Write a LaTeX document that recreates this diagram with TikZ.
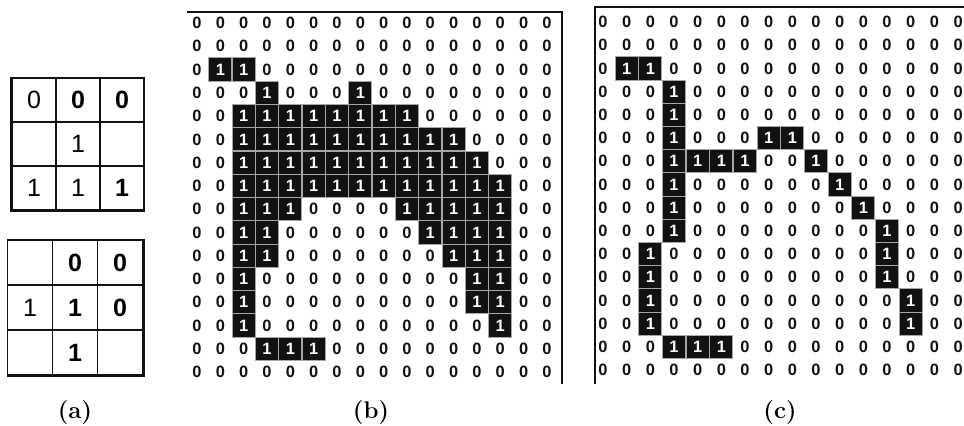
\documentclass[tikz,border=0pt]{standalone}
\usepackage{fontspec}
\newfontfamily\digitfont{Liberation Sans}
\usepackage{xcolor}
\definecolor{cInk}{HTML}{111111}
\definecolor{cGap}{HTML}{A6A6A6}
\usepackage{tikz}
\usetikzlibrary{positioning}
\newcommand{\bitfont}{\digitfont\fontsize{8.2}{9}\selectfont\bfseries}
\newcommand{\sefont}{\digitfont\fontsize{12.5}{13}\selectfont}
\tikzset{
  bit-0/.style={inner sep=0pt,font=\bitfont,text=cInk},
  bit-1/.style={bit-0,fill=cInk,draw=cGap,line width=0.5pt,
    minimum size=11.6pt,text=white},
  se-cell/.style={draw=cInk,line width=0.7pt,minimum size=22pt,
    inner sep=0pt,font=\sefont},
  se-cell-wide/.style={se-cell,minimum size=22.5pt},
  se-bold/.style={font=\sefont\bfseries},
  frame-line/.style={draw=cInk,line width=0.75pt},
  heavy-line/.style={draw=cInk,line width=1.5pt},
  sub-label/.style={font=\fontsize{12}{14}\selectfont\bfseries},
}

\begin{document}
\begin{tikzpicture}[x=0.5pt,y=-0.5pt]
  \useasboundingbox (0,0) rectangle (964,425);
  % (a) structuring elements
  \node[se-cell] (p-1-1) at (34,100) {0};
  \node[se-cell,se-bold] (p-1-2) at (78,100) {0};
  \node[se-cell,se-bold] (p-1-3) at (122,100) {0};
  \node[se-cell] (p-2-1) at (34,144) {};
  \node[se-cell] (p-2-2) at (78,144) {1};
  \node[se-cell] (p-2-3) at (122,144) {};
  \node[se-cell] (p-3-1) at (34,188) {1};
  \node[se-cell] (p-3-2) at (78,188) {1};
  \node[se-cell,se-bold] (p-3-3) at (122,188) {1};
  \draw[heavy-line] (p-1-1.north west) |- (p-3-3.south east);
  \node[se-cell-wide] (q-1-1) at (30,262.5) {};
  \node[se-cell-wide,se-bold] (q-1-2) at (75,262.5) {0};
  \node[se-cell-wide,se-bold] (q-1-3) at (120,262.5) {0};
  \node[se-cell-wide] (q-2-1) at (30,307.5) {1};
  \node[se-cell-wide,se-bold] (q-2-2) at (75,307.5) {1};
  \node[se-cell-wide,se-bold] (q-2-3) at (120,307.5) {0};
  \node[se-cell-wide] (q-3-1) at (30,352.5) {};
  \node[se-cell-wide,se-bold] (q-3-2) at (75,352.5) {1};
  \node[se-cell-wide] (q-3-3) at (120,352.5) {};
  \draw[heavy-line] (q-3-1.south west) -| (q-1-3.north east);
  % (b) input image
  \coordinate (b-nw) at (187,12);
  \coordinate (b-se) at (562,384);
  \draw[frame-line] (b-nw) -| (b-se);
  \foreach \row [count=\r] in {
    {0,0,0,0,0,0,0,0,0,0,0,0,0,0,0,0},
    {0,0,0,0,0,0,0,0,0,0,0,0,0,0,0,0},
    {0,1,1,0,0,0,0,0,0,0,0,0,0,0,0,0},
    {0,0,0,1,0,0,0,1,0,0,0,0,0,0,0,0},
    {0,0,1,1,1,1,1,1,1,1,0,0,0,0,0,0},
    {0,0,1,1,1,1,1,1,1,1,1,1,0,0,0,0},
    {0,0,1,1,1,1,1,1,1,1,1,1,1,0,0,0},
    {0,0,1,1,1,1,1,1,1,1,1,1,1,1,0,0},
    {0,0,1,1,1,0,0,0,0,1,1,1,1,1,0,0},
    {0,0,1,1,0,0,0,0,0,0,1,1,1,1,0,0},
    {0,0,1,1,0,0,0,0,0,0,0,1,1,1,0,0},
    {0,0,1,0,0,0,0,0,0,0,0,0,1,1,0,0},
    {0,0,1,0,0,0,0,0,0,0,0,0,1,1,0,0},
    {0,0,1,0,0,0,0,0,0,0,0,0,0,1,0,0},
    {0,0,0,1,1,1,0,0,0,0,0,0,0,0,0,0},
    {0,0,0,0,0,0,0,0,0,0,0,0,0,0,0,0}}{
    \foreach \v [count=\c] in \row
      \node[bit-\v] (b-\r-\c) at ({197+23.33*(\c-1)},{23+23.27*(\r-1)}) {\v};
  }
  % (c) thinned result
  \coordinate (c-ne) at (964,7);
  \coordinate (c-sw) at (595,384);
  \draw[frame-line] (c-ne) -| (c-sw);
  \foreach \row [count=\r] in {
    {0,0,0,0,0,0,0,0,0,0,0,0,0,0,0,0},
    {0,0,0,0,0,0,0,0,0,0,0,0,0,0,0,0},
    {0,1,1,0,0,0,0,0,0,0,0,0,0,0,0,0},
    {0,0,0,1,0,0,0,0,0,0,0,0,0,0,0,0},
    {0,0,0,1,0,0,0,0,0,0,0,0,0,0,0,0},
    {0,0,0,1,0,0,0,1,1,0,0,0,0,0,0,0},
    {0,0,0,1,1,1,1,0,0,1,0,0,0,0,0,0},
    {0,0,0,1,0,0,0,0,0,0,1,0,0,0,0,0},
    {0,0,0,1,0,0,0,0,0,0,0,1,0,0,0,0},
    {0,0,0,1,0,0,0,0,0,0,0,0,1,0,0,0},
    {0,0,1,0,0,0,0,0,0,0,0,0,1,0,0,0},
    {0,0,1,0,0,0,0,0,0,0,0,0,1,0,0,0},
    {0,0,1,0,0,0,0,0,0,0,0,0,0,1,0,0},
    {0,0,1,0,0,0,0,0,0,0,0,0,0,1,0,0},
    {0,0,0,1,1,1,0,0,0,0,0,0,0,0,0,0},
    {0,0,0,0,0,0,0,0,0,0,0,0,0,0,0,0}}{
    \foreach \v [count=\c] in \row
      \node[bit-\v] (c-\r-\c) at ({603+23.67*(\c-1)},{22+23.2*(\r-1)}) {\v};
  }
  % captions
  \node[sub-label] (lab-a) at (75,412) {(a)};
  \node[sub-label] (lab-b) at (371,412) {(b)};
  \node[sub-label] (lab-c) at (780,412) {(c)};
\end{tikzpicture}
\end{document}
